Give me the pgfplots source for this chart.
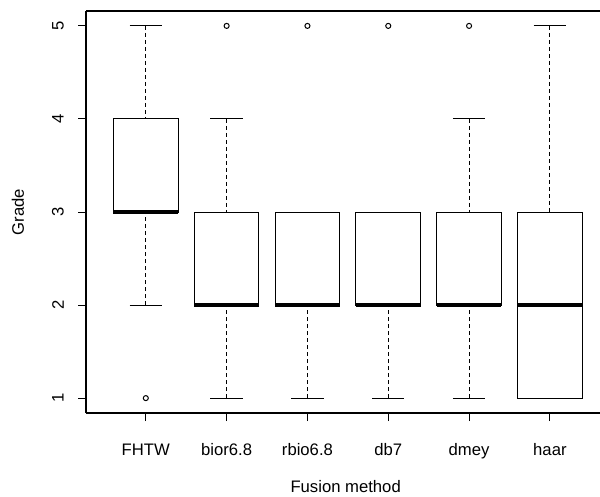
\documentclass[border=0pt]{standalone}
\usepackage{pgfplots}
\pgfplotsset{compat=1.18}
\usepgfplotslibrary{statistics}
\usepackage{fontspec}
\setmainfont{Liberation Sans}
\newcommand{\rfont}{\fontsize{12.5}{15}\selectfont}
\begin{document}
\begin{tikzpicture}
\begin{axis}[
  scale only axis,
  width=385.5pt, height=301.5pt,
  xmin=0.26, xmax=6.62, ymin=0.84, ymax=5.16,
  separate axis lines,
  axis x line*=box, axis y line*=left,
  axis line style={-, black, line width=0.9pt},
  xtick={1,2,3,4,5,6},
  xticklabels={FHTW,bior6.8,rbio6.8,db7,dmey,haar},
  ytick={1,2,3,4,5},
  xtick pos=lower, ytick pos=lower,
  tick align=outside, major tick length=6pt,
  tick style={black, line width=0.75pt},
  /pgf/number format/assume math mode=true,
  tick label style={font=\rfont},
  label style={font=\rfont},
  xticklabel style={anchor=base, yshift=-25.5pt},
  yticklabel style={anchor=center, xshift=-15pt, rotate=90},
  xlabel={Fusion method},
  ylabel={Grade},
  xlabel style={at={(axis description cs:0.5,0)}, anchor=center, yshift=-55.5pt, xshift=2pt},
  ylabel style={at={([xshift=-51pt]axis description cs:0,0.5)}, anchor=center},
  boxplot/draw direction=y,
  boxplot/box extend=0.8,
  boxplot/whisker extend=0.4,
  boxplot/every box/.style={draw=black, fill=white, line width=0.75pt},
  boxplot/every median/.style={draw=black, line width=2.4pt},
  boxplot/draw/lower whisker/.code={
    \draw[black, line width=0.75pt, dash pattern=on 3pt off 2.25pt]
      (boxplot box cs:\pgfplotsboxplotvalue{lower whisker},0.5) --
      (boxplot box cs:\pgfplotsboxplotvalue{lower quartile},0.5);
    \draw[black, line width=0.75pt]
      (boxplot whisker cs:\pgfplotsboxplotvalue{lower whisker},0) --
      (boxplot whisker cs:\pgfplotsboxplotvalue{lower whisker},1);
  },
  boxplot/draw/upper whisker/.code={
    \draw[black, line width=0.75pt, dash pattern=on 3pt off 2.25pt]
      (boxplot box cs:\pgfplotsboxplotvalue{upper whisker},0.5) --
      (boxplot box cs:\pgfplotsboxplotvalue{upper quartile},0.5);
    \draw[black, line width=0.75pt]
      (boxplot whisker cs:\pgfplotsboxplotvalue{upper whisker},0) --
      (boxplot whisker cs:\pgfplotsboxplotvalue{upper whisker},1);
  },
  every axis plot/.append style={black, mark=o, mark size=1.9pt, mark options={solid, line width=0.75pt}},
]
% FHTW
\addplot[boxplot prepared={draw position=1, lower whisker=2, lower quartile=3,
  median=3, upper quartile=4, upper whisker=5}] coordinates {(0,1)};
% bior6.8
\addplot[boxplot prepared={draw position=2, lower whisker=1, lower quartile=2,
  median=2, upper quartile=3, upper whisker=4}] coordinates {(0,5)};
% rbio6.8
\addplot[boxplot prepared={draw position=3, lower whisker=1, lower quartile=2,
  median=2, upper quartile=3, upper whisker=3}] coordinates {(0,5)};
% db7
\addplot[boxplot prepared={draw position=4, lower whisker=1, lower quartile=2,
  median=2, upper quartile=3, upper whisker=3}] coordinates {(0,5)};
% dmey
\addplot[boxplot prepared={draw position=5, lower whisker=1, lower quartile=2,
  median=2, upper quartile=3, upper whisker=4}] coordinates {(0,5)};
% haar
\addplot[boxplot prepared={draw position=6, lower whisker=1, lower quartile=1,
  median=2, upper quartile=3, upper whisker=5}] coordinates {};
\coordinate (BL) at (rel axis cs:0,0);
\coordinate (TR) at (rel axis cs:1,1);
\end{axis}
\pgfresetboundingbox
\useasboundingbox ([xshift=-64.5pt,yshift=-62.25pt]BL) rectangle ([yshift=8.25pt]TR);
\end{tikzpicture}
\end{document}
